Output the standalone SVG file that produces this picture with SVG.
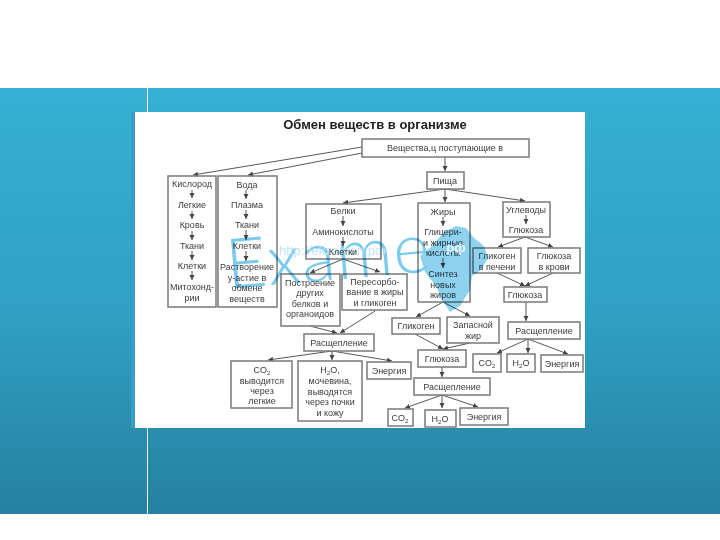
<svg xmlns="http://www.w3.org/2000/svg" width="720" height="540" viewBox="0 0 720 540">
<style>
text{font-family:"Liberation Sans",Arial,sans-serif;font-size:9px;fill:#3c3c3c;text-anchor:middle}
.title{font-size:13px;font-weight:700;fill:#222}
.b{fill:#fff;stroke:#7a7a7a;stroke-width:1.5}
.o{fill:none;stroke:#7a7a7a;stroke-width:1.5}
.c{fill:none;stroke:#444;stroke-width:.9;marker-end:url(#a)}
.wm{mix-blend-mode:multiply}
.big{font-family:Lato,"Liberation Sans",sans-serif;font-weight:300;font-size:70px;fill:#7ccbef;text-anchor:start;letter-spacing:1px}
.url{font-size:13px;fill:#bfe4f5;text-anchor:start}
.rf{font-size:13px;font-weight:700;fill:#fff;fill-opacity:.8}
</style>
<defs>
<linearGradient id="g" x1="0" y1="0" x2="0" y2="1"><stop offset="0" stop-color="#36b0d4"/><stop offset=".55" stop-color="#2f9fc2"/><stop offset="1" stop-color="#26809f"/></linearGradient>
<marker id="a" markerWidth="6" markerHeight="6" refX="5" refY="2.5" orient="auto" markerUnits="userSpaceOnUse"><path d="M0 0L5 2.5L0 5z" fill="#444"/></marker>
</defs>
<rect width="720" height="540" fill="#fff"/>
<rect y="88" width="720" height="426" fill="url(#g)"/>
<rect x="131" y="112" width="4" height="316" fill="#3a9ccb"/>
<rect x="147" y="84" width="1" height="432" fill="#e4f6fb"/>
<rect x="135" y="112" width="450" height="316" fill="#fff"/>
<text class="title" x="375" y="129">Обмен веществ в организме</text>

<g id="connectors">
<path class="c" d="M362 147L193 175"/>
<path class="c" d="M362 153L248 175"/>
<path class="c" d="M445 157V171"/>
<path class="c" d="M445 189L343 203"/>
<path class="c" d="M445 189V202"/>
<path class="c" d="M445 189L525 201"/>
<path class="c" d="M192 190V198"/><path class="c" d="M192 211V219"/><path class="c" d="M192 231V240"/><path class="c" d="M192 251V260"/><path class="c" d="M192 271V280"/>
<path class="c" d="M246 190V199"/><path class="c" d="M246 210V219"/><path class="c" d="M246 230V240"/><path class="c" d="M246 251V261"/>
<path class="c" d="M343 216V226"/><path class="c" d="M343 237V246"/>
<path class="c" d="M443 217V226"/><path class="c" d="M443 258V268"/>
<path class="c" d="M526 215V224"/>
<path class="c" d="M525 237L498 247"/><path class="c" d="M525 237L553 247"/>
<path class="c" d="M497 273L525 286"/><path class="c" d="M553 273L525 286"/>
<path class="c" d="M343 259L310 273"/><path class="c" d="M343 259L380 272"/>
<path class="c" d="M310 326L337 333"/><path class="c" d="M375 311L340 333"/>
<path class="c" d="M332 351L268 360"/><path class="c" d="M332 351V360"/><path class="c" d="M332 351L392 361"/>
<path class="c" d="M443 302L416 317"/><path class="c" d="M443 302L470 316"/>
<path class="c" d="M415 334L443 349"/><path class="c" d="M470 343L443 349"/>
<path class="c" d="M442 367V377"/>
<path class="c" d="M442 395L405 408"/><path class="c" d="M442 395V408"/><path class="c" d="M442 395L478 407"/>
<path class="c" d="M526 302V321"/>
<path class="c" d="M528 339L497 353"/><path class="c" d="M528 339V353"/><path class="c" d="M528 339L568 354"/>
</g>

<g id="n-source"><rect class="b" x="362" y="139" width="167" height="18"/><text x="445" y="151">Вещества,ц поступающие в</text></g>
<g id="n-food"><rect class="b" x="427" y="172" width="37" height="17"/><text x="445" y="184">Пища</text></g>
<g id="n-oxygen"><rect class="o" x="168" y="176" width="48" height="131"/><text x="192" y="187">Кислород</text><text x="192" y="208">Легкие</text><text x="192" y="228">Кровь</text><text x="192" y="249">Ткани</text><text x="192" y="269">Клетки</text><text x="192" y="290">Митохонд-</text><text x="192" y="301">рии</text></g>
<g id="n-water"><rect class="o" x="218" y="176" width="59" height="131"/><text x="247" y="188">Вода</text><text x="247" y="208">Плазма</text><text x="247" y="228">Ткани</text><text x="247" y="249">Клетки</text><text x="247" y="270">Растворение</text><text x="247" y="281">у-астие в</text><text x="247" y="291">обмене</text><text x="247" y="302">веществ</text></g>
<g id="n-proteins"><rect class="o" x="306" y="204" width="75" height="55"/><text x="343" y="214">Белки</text><text x="343" y="235">Аминокислоты</text><text x="343" y="255">Клетки</text></g>
<g id="n-fats"><rect class="o" x="418" y="203" width="52" height="99"/><text x="443" y="215">Жиры</text><text x="443" y="235">Глицери-</text><text x="443" y="246">и жирные</text><text x="443" y="256">кислоты</text><text x="443" y="277">Синтез</text><text x="443" y="288">новых</text><text x="443" y="298">жиров</text></g>
<g id="n-carbs"><rect class="o" x="503" y="202" width="47" height="35"/><text x="526" y="213">Углеводы</text><text x="526" y="233">Глюкоза</text></g>
<g id="n-liver"><rect class="b" x="473" y="248" width="48" height="25"/><text x="497" y="259">Гликоген</text><text x="497" y="270">в печени</text></g>
<g id="n-blood"><rect class="b" x="528" y="248" width="52" height="25"/><text x="554" y="259">Глюкоза</text><text x="554" y="270">в крови</text></g>
<g id="n-glucose-r"><rect class="b" x="504" y="287" width="43" height="15"/><text x="525" y="298">Глюкоза</text></g>
<g id="n-build"><rect class="b" x="281" y="274" width="59" height="52"/><text x="310" y="286">Построение</text><text x="310" y="296">других</text><text x="310" y="307">белков и</text><text x="310" y="317">органоидов</text></g>
<g id="n-convert"><rect class="b" x="342" y="274" width="65" height="36"/><text x="375" y="285">Пересорбо-</text><text x="375" y="295">вание в жиры</text><text x="375" y="306">и гликоген</text></g>
<g id="n-split1"><rect class="b" x="304" y="334" width="70" height="17"/><text x="339" y="346">Расщепление</text></g>
<g id="n-co2-1"><rect class="b" x="231" y="361" width="61" height="47"/><text x="262" y="373">CO<tspan font-size="6" dy="2">2</tspan></text><text x="262" y="384">выводится</text><text x="262" y="394">через</text><text x="262" y="404">легкие</text></g>
<g id="n-h2o-1"><rect class="b" x="298" y="361" width="64" height="60"/><text x="330" y="373">H<tspan font-size="6" dy="2">2</tspan><tspan dy="-2">O,</tspan></text><text x="330" y="384">мочевина,</text><text x="330" y="395">выводятся</text><text x="330" y="405">через почки</text><text x="330" y="416">и кожу</text></g>
<g id="n-energy-1"><rect class="b" x="367" y="362" width="44" height="17"/><text x="389" y="374">Энергия</text></g>
<g id="n-glycogen"><rect class="b" x="392" y="318" width="48" height="16"/><text x="416" y="329">Гликоген</text></g>
<g id="n-reserve"><rect class="b" x="447" y="317" width="52" height="26"/><text x="473" y="328">Запасной</text><text x="473" y="339">жир</text></g>
<g id="n-glucose-m"><rect class="b" x="418" y="350" width="48" height="17"/><text x="442" y="362">Глюкоза</text></g>
<g id="n-split2"><rect class="b" x="414" y="378" width="76" height="17"/><text x="452" y="390">Расщепление</text></g>
<g id="n-co2-2"><rect class="b" x="388" y="409" width="25" height="17"/><text x="400" y="421">CO<tspan font-size="6" dy="2">2</tspan></text></g>
<g id="n-h2o-2"><rect class="b" x="425" y="410" width="31" height="17"/><text x="440" y="422">H<tspan font-size="6" dy="2">2</tspan><tspan dy="-2">O</tspan></text></g>
<g id="n-energy-2"><rect class="b" x="460" y="408" width="48" height="17"/><text x="484" y="420">Энергия</text></g>
<g id="n-split3"><rect class="b" x="508" y="322" width="72" height="17"/><text x="544" y="334">Расщепление</text></g>
<g id="n-co2-3"><rect class="b" x="473" y="354" width="28" height="18"/><text x="487" y="366">CO<tspan font-size="6" dy="2">2</tspan></text></g>
<g id="n-h2o-3"><rect class="b" x="507" y="354" width="28" height="18"/><text x="521" y="366">H<tspan font-size="6" dy="2">2</tspan><tspan dy="-2">O</tspan></text></g>
<g id="n-energy-3"><rect class="b" x="541" y="355" width="42" height="17"/><text x="562" y="367">Энергия</text></g>

<g class="wm">
<path d="M432 246L444 232L456 226L466 228L474 238L484 246L488 258L481 270L472 276L470 290L460 306L450 312L442 300L436 286L425 272L420 256Z" fill="#8fd2f0"/>
<text class="big" x="228" y="289" transform="rotate(-5 228 289)">Exame</text>
<text class="url" x="279" y="255">http://ekzamen.рф</text>
</g>
<text class="rf" x="456" y="252">рф</text>
</svg>
